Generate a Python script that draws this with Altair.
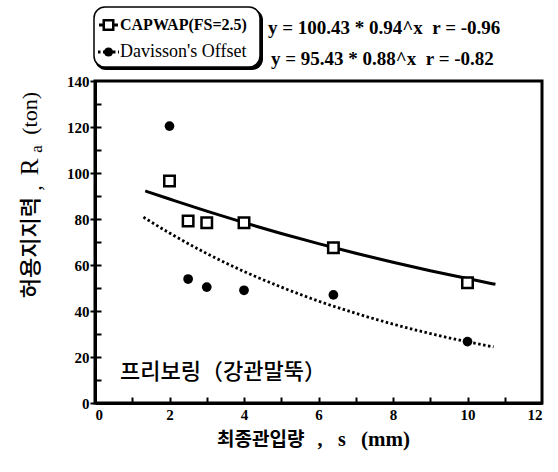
import altair as alt
import pandas as pd

# ---- data ----
s_capwap = [2, 2.5, 3, 4, 6.4, 10]
ra_capwap = [96.5, 79.1, 78.4, 78.4, 67.5, 52.3]
s_dav = [2, 2.5, 3, 4, 6.4, 10]
ra_dav = [120.4, 53.9, 50.4, 49.0, 47.0, 26.7]
fit_capwap_s = [1.35, 2, 3, 4, 5, 6, 7, 8, 9, 10, 10.75]
fit_capwap_ra = [92.2, 88.7, 83.4, 78.4, 73.7, 69.3, 65.1, 61.2, 57.5, 54.1, 51.6]
fit_dav_s = [1.3, 2, 3, 4, 5, 6, 7, 8, 9, 10, 10.7]
fit_dav_ra = [80.8, 73.9, 65.0, 57.2, 50.4, 44.3, 39.0, 34.3, 30.2, 26.6, 24.4]
x_labels = [0, 2, 4, 6, 8, 10, 12]
x_minor = [1, 2, 3, 4, 5, 6, 7, 8, 9, 10, 11]
y_labels = [0, 20, 40, 60, 80, 100, 120, 140]
y_minor = [10, 20, 30, 40, 50, 60, 70, 80, 90, 100, 110, 120, 130]
legend_names = ["CAPWAP(FS=2.5)", "Davisson's Offset"]
NB = "\u00a0"
equations = ["y = 100.43 * 0.94^x" + NB + NB + "r = -0.96",
             "y = 95.43 * 0.88^x" + NB + NB + "r = -0.82"]
note = "프리보링（강관말뚝）"

W, H = 447, 322
SERIF = "Liberation Serif"
KR = "Noto Sans CJK KR"

pts_cap = pd.DataFrame({"s": s_capwap, "ra": ra_capwap})
pts_dav = pd.DataFrame({"s": s_dav, "ra": ra_dav})
fit_cap = pd.DataFrame({"s": fit_capwap_s, "ra": fit_capwap_ra})
fit_dav = pd.DataFrame({"s": fit_dav_s, "ra": fit_dav_ra})

xs = alt.Scale(domain=[0, 12], nice=False, zero=False)
ys = alt.Scale(domain=[0, 140], nice=False, zero=False)

main_x = alt.Axis(values=x_labels, labelFont=SERIF, labelFontSize=15,
                  labelFontWeight="bold", labelColor="black", ticks=False,
                  domainColor="black", domainWidth=3, grid=False, labelPadding=4,
                  title=None)
main_y = alt.Axis(values=y_labels, labelFont=SERIF, labelFontSize=15,
                  labelFontWeight="bold", labelColor="black", tickSize=5, tickWidth=2,
                  tickColor="black", domainColor="black", domainWidth=3, grid=False,
                  labelPadding=1, title=None)
inner_x = alt.Axis(orient="top", offset=-H, values=x_minor, tickSize=6, tickWidth=2,
                   tickColor="black", labels=False, domain=False, grid=False, title=None)
inner_y = alt.Axis(orient="right", offset=-W, values=y_minor, tickSize=6, tickWidth=2,
                   tickColor="black", labels=False, domain=False, grid=False, title=None)

line_cap = alt.Chart(fit_cap).mark_line(color="black", strokeWidth=3, interpolate="monotone").encode(
    x=alt.X("s:Q", scale=xs, axis=main_x),
    y=alt.Y("ra:Q", scale=ys, axis=main_y),
)
line_dav = alt.Chart(fit_dav).mark_line(color="black", strokeWidth=2.8, strokeDash=[2.5, 2.5],
                                        interpolate="monotone").encode(
    x=alt.X("s:Q", scale=xs, axis=inner_x),
    y=alt.Y("ra:Q", scale=ys, axis=inner_y),
)
sq = alt.Chart(pts_cap).mark_point(shape="square", filled=False, color="black",
                                   strokeWidth=2.5, size=110, fill="white", fillOpacity=1).encode(
    x=alt.X("s:Q", scale=xs, axis=None),
    y=alt.Y("ra:Q", scale=ys, axis=None),
)
dots = alt.Chart(pts_dav).mark_point(shape="circle", filled=True, color="black",
                                     size=95, opacity=1).encode(
    x=alt.X("s:Q", scale=xs, axis=None),
    y=alt.Y("ra:Q", scale=ys, axis=None),
)

one = alt.Data(values=[{"k": 1}])
L, T = 95, 81  # plot origin inside the page


def txt(text, x, y, **kw):
    # x, y given in page pixels, converted to plot-relative pixels
    kw.setdefault("color", "black")
    kw.setdefault("baseline", "middle")
    return alt.Chart(one).mark_text(text=text, **kw).encode(x=alt.value(x - L), y=alt.value(y - T))


# legend box (shadow + box)
shadow = alt.Chart(one).mark_rect(cornerRadius=11, color="black").encode(
    x=alt.value(0), x2=alt.value(168), y=alt.value(-72), y2=alt.value(-11))
box = alt.Chart(one).mark_rect(cornerRadius=11, fill="white", stroke="black", strokeWidth=1.5).encode(
    x=alt.value(-1), x2=alt.value(165), y=alt.value(-74), y2=alt.value(-14))
leg_line1 = alt.Chart(one).mark_rule(color="black", strokeWidth=3).encode(
    x=alt.value(4), x2=alt.value(23), y=alt.value(-56))
leg_sq = alt.Chart(one).mark_point(shape="square", filled=False, color="black", strokeWidth=2.5,
                                   size=90, fill="white", fillOpacity=1).encode(
    x=alt.value(13.5), y=alt.value(-56))
leg_line2 = alt.Chart(one).mark_rule(color="black", strokeWidth=2.8, strokeDash=[2.5, 2.5]).encode(
    x=alt.value(3), x2=alt.value(24), y=alt.value(-29))
leg_dot = alt.Chart(one).mark_point(shape="circle", filled=True, color="black", size=85, opacity=1).encode(
    x=alt.value(13.5), y=alt.value(-29))
leg_t1 = txt(legend_names[0], 120, 25, font=SERIF, fontSize=16, fontWeight="bold", align="left")
leg_t2 = txt(legend_names[1], 120, 52, font=SERIF, fontSize=18, fontWeight=500, align="left")
eq1 = txt(equations[0], 268, 28, font=SERIF, fontSize=19, fontWeight=600, align="left")
eq2 = txt(equations[1], 271, 59, font=SERIF, fontSize=19, fontWeight=600, align="left")
note_t = txt(note, 120, 372, font=KR, fontSize=22, fontWeight=500, align="left")

# y-axis title built from pieces (Korean + R with subscript a)
yt_kr = txt("허용지지력", 31, 197, font=KR, fontSize=22, fontWeight=500, angle=270, align="right")
yt_c = txt(",", 34, 188, font=SERIF, fontSize=22, angle=270, align="center")
yt_r = txt("R", 30, 167, font=SERIF, fontSize=25, angle=270, align="center")
yt_a = txt("a", 37, 149, font=SERIF, fontSize=17, angle=270, align="center")
yt_t = txt("(ton)", 30, 92, font=SERIF, fontSize=22, angle=270, align="right")

# x-axis title built from pieces
xt_kr = txt("최종관입량", 217, 440, font=KR, fontSize=19, fontWeight="bold", align="left")
xt_c = txt(",", 320, 440, font=SERIF, fontSize=20, fontWeight="bold", align="center")
xt_s = txt("s", 342, 440, font=SERIF, fontSize=20, fontWeight="bold", align="center")
xt_m = txt("(mm)", 361, 440, font=SERIF, fontSize=21, fontWeight="bold", align="left")

chart = alt.layer(
    line_cap, line_dav, sq, dots,
    shadow, box, leg_line1, leg_sq, leg_line2, leg_dot, leg_t1, leg_t2, eq1, eq2,
    note_t, yt_kr, yt_c, yt_r, yt_a, yt_t, xt_kr, xt_c, xt_s, xt_m,
).resolve_axis(x="independent", y="independent").properties(
    width=W, height=H,
    autosize=alt.AutoSizeParams(type="none"),
    padding={"left": L, "top": T, "right": 16, "bottom": 69},
    background="white",
).configure_view(stroke="black", strokeWidth=3)

chart.save("out.html", embed_options={"renderer": "svg", "actions": False})
